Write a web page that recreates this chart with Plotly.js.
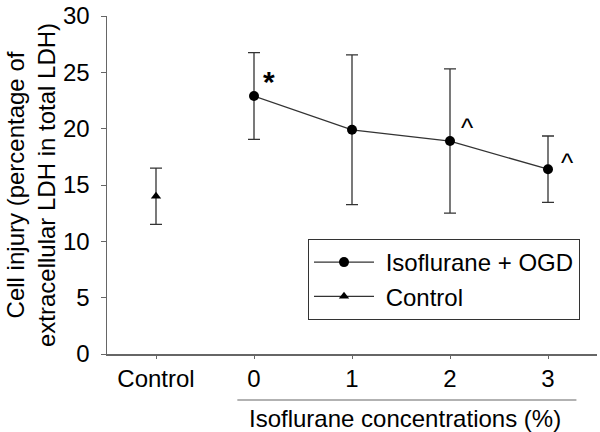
<!DOCTYPE html>
<html>
<head>
<meta charset="utf-8">
<script src="https://cdn.plot.ly/plotly-3.0.1.min.js"></script>
<style>
  html, body { margin: 0; padding: 0; background: #fff; }
  #myPlot { width: 600px; height: 432px; }
</style>
</head>
<body>
<div id="myPlot"></div>
<script>
// Isoflurane + OGD group, concentrations 0..3 %
var isoX = [0, 1, 2, 3];
var isoY = [22.9, 19.9, 18.9, 16.4];
var isoErr = [3.85, 6.65, 6.4, 2.95];
var sigMarks = ["<b>*</b>", "", "^", "^"];

// control group, drawn at the "Control" slot left of 0
var ctrlX = [-1];
var ctrlY = [14.0];
var ctrlErr = [2.5];

var tickVals = [-1, 0, 1, 2, 3];
var tickText = ["Control", "0", "1", "2", "3"];

var fnt = "Liberation Sans, Arial, sans-serif";
var nb = "\u00a0"; // little gap between legend symbol and label
var plotH = 432 - 16 - 78;

var data = [
  {
    x: isoX, y: isoY, name: nb + "Isoflurane + OGD",
    mode: "lines+markers", type: "scatter",
    line: {color: "#333", width: 1.3},
    marker: {symbol: "circle", size: 10, color: "#000"},
    error_y: {type: "data", array: isoErr, visible: true, color: "#333", thickness: 1.3, width: 6}
  },
  {
    x: ctrlX, y: ctrlY, name: nb + "Control",
    mode: "lines+markers", type: "scatter",
    line: {color: "#333", width: 1.3},
    marker: {symbol: "triangle-up", size: 9, color: "#000"},
    error_y: {type: "data", array: ctrlErr, visible: true, color: "#333", thickness: 1.3, width: 6}
  }
];

// significance marks beside the points
var annos = [];
var shifts = [[15, 14], [0, 0], [17, 13], [19, 6]];
for (var i = 0; i < isoX.length; i++) {
  if (!sigMarks[i]) continue;
  annos.push({
    x: isoX[i], y: isoY[i], xref: "x", yref: "y", text: sigMarks[i],
    showarrow: false, xshift: shifts[i][0], yshift: shifts[i][1],
    font: {family: fnt, size: i === 0 ? 30 : 26, color: "#000"}
  });
}
// x axis title sits off-centre, under the 0..3 part only
annos.push({
  x: (405 - 107) / 490, y: -(418 - 354) / plotH, xref: "paper", yref: "paper",
  xanchor: "center", yanchor: "middle",
  text: "Isoflurane concentrations (%)",
  showarrow: false, font: {family: fnt, size: 24, color: "#000"}
});

var layout = {
  width: 600, height: 432,
  margin: {l: 107, r: 3, t: 16, b: 78},
  paper_bgcolor: "#fff", plot_bgcolor: "#fff",
  font: {family: fnt, size: 24, color: "#000"},
  showlegend: true,
  legend: {
    x: (308 - 107) / 490, y: (354 - 239) / plotH, xanchor: "left", yanchor: "top",
    bordercolor: "#333", borderwidth: 1, bgcolor: "#fff",
    font: {family: fnt, size: 24, color: "#000"},
    itemwidth: 60, tracegroupgap: 0
  },
  xaxis: {
    range: [-1.5, 3.5], tickmode: "array", tickvals: tickVals, ticktext: tickText,
    showgrid: false, zeroline: false, showline: true, linecolor: "#666", linewidth: 1.5,
    ticks: "outside", ticklen: 3, tickcolor: "#666", fixedrange: true
  },
  yaxis: {
    range: [0, 30], dtick: 5, showgrid: false, zeroline: false,
    showline: true, linecolor: "#666", linewidth: 1.5,
    ticks: "outside", ticklen: 5, tickcolor: "#666", ticklabelstandoff: 6,
    ticklabeloverflow: "allow",
    title: {text: "Cell injury (percentage of<br>extracellular LDH in total LDH)", font: {family: fnt, size: 24}, standoff: 0}
  },
  shapes: [
    {type: "line", xref: "x", yref: "paper", x0: -0.17, x1: 3.29,
     y0: -(400 - 354) / plotH, y1: -(400 - 354) / plotH,
     line: {color: "#666", width: 1.2}}
  ],
  annotations: annos
};

Plotly.newPlot("myPlot", data, layout, {displayModeBar: false, staticPlot: true});
</script>
</body>
</html>
